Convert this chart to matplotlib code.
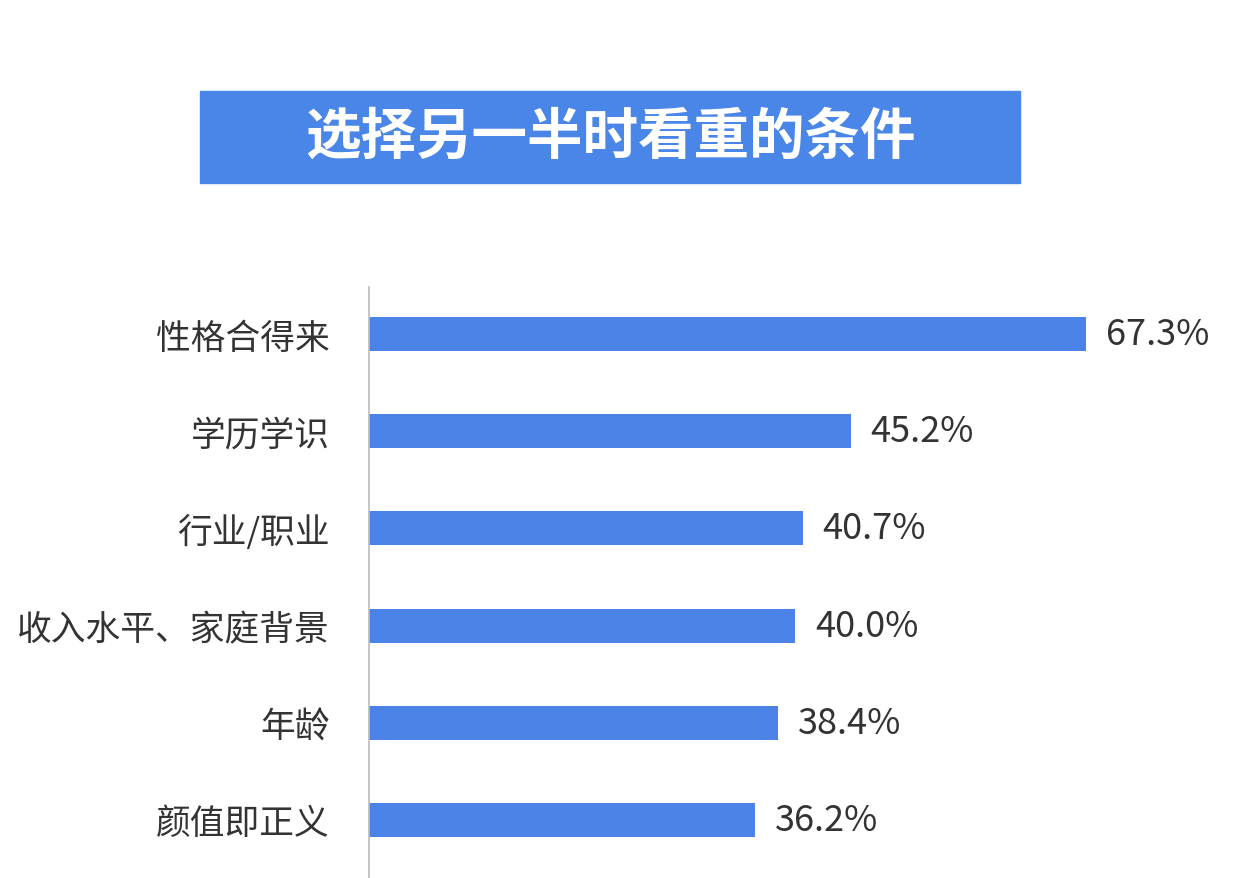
import matplotlib
matplotlib.use("Agg")
import matplotlib.pyplot as plt
from matplotlib.patches import Rectangle

plt.rcParams['font.family'] = ['Noto Sans CJK SC', 'DejaVu Sans']

# data
categories = ["性格合得来", "学历学识", "行业/职业", "收入水平、家庭背景", "年龄", "颜值即正义"]
values = [67.3, 45.2, 40.7, 40.0, 38.4, 36.2]
title = "选择另一半时看重的条件"

blue = "#4a82e6"
text_col = "#333333"

W, H = 1242, 879
fig = plt.figure(figsize=(W / 100, H / 100), dpi=100)
fig.patch.set_facecolor("white")

# title banner
fig.patches.append(Rectangle((200 / W, 1 - 184 / H), 820 / W, 92 / H,
                             transform=fig.transFigure, color="#4a86e8", zorder=0))
fig.text(610 / W, 1 - 138 / H, title, color="white", fontsize=40, fontweight="bold",
         ha="center", va="center")

# bar axes: x=369px is zero, 1086px is 67.3
x0, x1 = 369, 1086
ax = fig.add_axes([x0 / W, 0, (W - x0) / W, 1 - 288 / H])
ax.set_xlim(0, values[0] * (W - x0) / (x1 - x0))
step = 97.2
ax.set_ylim(5 + 58 / step, -47 / step)

ypos = range(len(categories))
ax.barh(ypos, values, height=34 / step, color=blue)

for y, v in zip(ypos, values):
    ax.text(v + 20 / ((x1 - x0) / values[0]), y, f"{v:.1f}%", va="center", ha="left",
            fontsize=26, color=text_col)

ax.set_yticks(list(ypos))
ax.set_yticklabels(categories, fontsize=25, color=text_col)
ax.tick_params(axis="y", length=0, pad=28)
ax.set_xticks([])

for s in ["top", "right", "bottom"]:
    ax.spines[s].set_visible(False)
ax.spines["left"].set_color("#bbbbbb")
ax.spines["left"].set_linewidth(1.2)
ax.set_facecolor("none")

fig.savefig("out.png", dpi=100)
